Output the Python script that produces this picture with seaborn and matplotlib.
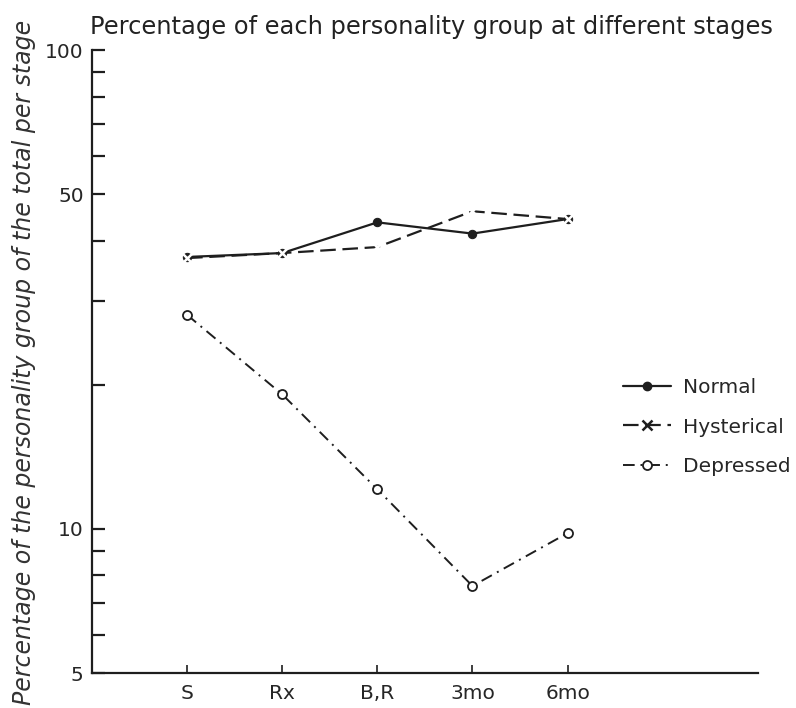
import pandas as pd
import numpy as np
import matplotlib
matplotlib.use("Agg")
import matplotlib.pyplot as plt
from matplotlib.lines import Line2D
from matplotlib.ticker import FixedLocator, LogLocator, NullFormatter, FixedFormatter
from matplotlib.legend_handler import HandlerLine2D
import seaborn as sns

stages = ['S', 'Rx', 'B,R', '3mo', '6mo']
normal = [37.0, 37.7, 43.7, 41.4, 44.4]
hysterical = [36.8, 37.7, 38.8, 46.1, 44.4]
depressed = [28.0, 19.1, 12.1, 7.6, 9.8]
y_ticks = [5, 10, 50, 100]

sns.set_style('white')
plt.rcParams['font.family'] = ['DejaVu Sans']

df = pd.DataFrame({'stage': stages * 3,
                   'pct': normal + hysterical + depressed,
                   'group': ['Normal'] * 5 + ['Hysterical'] * 5 + ['Depressed'] * 5})

fig = plt.figure(figsize=(7.96, 7.08), dpi=100)
ax = fig.add_axes([0.1156, 0.0494, 0.8364, 0.8796])

ink = '#1e1e1e'
styles = {
    'Normal': dict(lw=1.6, marker='o', ms=6, mfc=ink, mec=ink),
    'Hysterical': dict(lw=1.6, marker='x', ms=7, mew=1.8, dashes=(7, 3)),
    'Depressed': dict(lw=1.4, marker='o', ms=6.5, mfc='white', mec=ink, mew=1.3,
                      dashes=(6, 3, 1, 3)),
}
for name, kw in styles.items():
    sns.lineplot(data=df[df.group == name], x='stage', y='pct', ax=ax, sort=False,
                 color=ink, **kw)

ax.set_yscale('log')
ax.set_ylim(5, 100)
ax.set_xlim(-1, 6)
ax.yaxis.set_major_locator(FixedLocator(y_ticks))
ax.yaxis.set_major_formatter(FixedFormatter([str(t) for t in y_ticks]))
ax.yaxis.set_minor_locator(LogLocator(base=10, subs=np.arange(2, 10)))
ax.yaxis.set_minor_formatter(NullFormatter())

for s in ['top', 'right']:
    ax.spines[s].set_visible(False)
for s in ['left', 'bottom']:
    ax.spines[s].set_color(ink)
    ax.spines[s].set_linewidth(1.6)

ax.tick_params(axis='y', which='both', direction='in', length=9, width=1.6,
               color=ink, left=True, labelsize=14.5, pad=6)
ax.tick_params(axis='x', direction='in', length=6, width=1.2, color=ink,
               bottom=True, labelsize=14.5, pad=8)

ax.set_xlabel('')
ax.set_ylabel('Percentage of the personality group of the total per stage',
              fontsize=17, fontstyle='italic', color='#333333')
ax.yaxis.set_label_coords(-0.084, 0.499)
fig.text(0.113, 0.962, 'Percentage of each personality group at different stages',
         fontsize=17.4, color='#222222', ha='left', va='center')


class EndMarker(HandlerLine2D):
    def get_xdata(self, legend, xdescent, ydescent, width, height, fontsize):
        xdata = np.array([-xdescent, -xdescent + width])
        return xdata, np.array([-xdescent + width * 0.85])


handles = [Line2D([], [], color=ink, **kw) for kw in styles.values()]
ax.legend(handles, list(styles.keys()), loc='center left', bbox_to_anchor=(0.77, 0.395),
          frameon=False, fontsize=14.5, handlelength=2.4, labelspacing=1.0,
          handletextpad=0.6, numpoints=1, handler_map={Line2D: EndMarker()})

fig.savefig('out.png', dpi=100, facecolor='white')
